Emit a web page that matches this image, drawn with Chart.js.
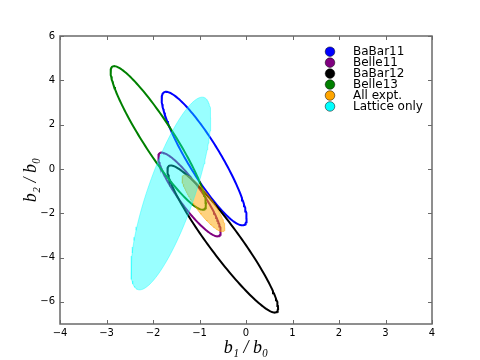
<!DOCTYPE html>
<html>
<head>
<meta charset="utf-8">
<script src="https://cdn.jsdelivr.net/npm/chart.js@4/dist/chart.umd.min.js"></script>
<style>
html,body{margin:0;padding:0;background:#fff;}
canvas{display:block;}
</style>
</head>
<body>
<canvas id="c" width="480" height="360"></canvas>
<script>
// ---- data ----
const seriesNames = ['BaBar11', 'Belle11', 'BaBar12', 'Belle13', 'All expt.', 'Lattice only'];
const centerX = [-0.90, -1.215, -0.50, -1.886, -0.914, -1.615];
const centerY = [0.467, -1.152, -3.163, 1.40, -1.55, -1.11];
const sigmaX  = [0.914, 0.671, 1.19, 1.026, 0.462, 0.858];
const sigmaY  = [3.014, 1.89, 3.32, 3.24, 1.28, 4.35];
const corr    = [-0.895, -0.895, -0.94, -0.925, -0.87, 0.785];
const filled  = [false, false, false, false, true, true];
const xTicks = [-4, -3, -2, -1, 0, 1, 2, 3, 4];
const yTicks = [-6, -4, -2, 0, 2, 4, 6];
const xRange = [-4, 4];
const yRange = [-7, 6];

// ---- styles ----
const lineColors = ['#0000ff', '#800080', '#000000', '#008000', 'rgba(255,165,0,0.5)', 'rgba(0,255,255,0.4)'];
const fillColors = ['transparent', 'transparent', 'transparent', 'transparent', 'rgba(255,165,0,0.5)', 'rgba(0,255,255,0.4)'];
const markerColors = ['#0000ff', '#800080', '#000000', '#008000', '#ffa500', '#00ffff'];
const drawOrder = [6, 5, 4, 3, 2, 1]; // lower = on top

function ellipse(i) {
  const pts = [];
  const n = 160;
  const s = Math.sqrt(1 - corr[i] * corr[i]);
  for (let k = 0; k <= n; k++) {
    const t = 2 * Math.PI * k / n;
    const c = Math.cos(t), sn = Math.sin(t);
    pts.push({x: centerX[i] + sigmaX[i] * c, y: centerY[i] + sigmaY[i] * (corr[i] * c + s * sn)});
  }
  return pts;
}

const datasets = seriesNames.map((name, i) => ({
  label: name,
  data: ellipse(i),
  showLine: true,
  pointRadius: 0,
  pointHoverRadius: 0,
  borderColor: lineColors[i],
  backgroundColor: fillColors[i],
  borderWidth: filled[i] ? 1 : 2,
  fill: filled[i] ? 'shape' : false,
  tension: 0,
  order: drawOrder[i]
}));

const fmt = v => (v < 0 ? '\u2212' + Math.abs(v) : String(v));

const framePlugin = {
  id: 'frame',
  afterDatasetsDraw(chart) {
    const {ctx, chartArea: a, scales: {x, y}} = chart;
    ctx.save();
    ctx.strokeStyle = '#6a6a6a';
    ctx.lineWidth = 1.5;
    ctx.strokeRect(a.left, a.top, a.right - a.left, a.bottom - a.top);
    ctx.lineWidth = 1;
    ctx.beginPath();
    const L = 4;
    xTicks.forEach(v => {
      const px = Math.round(x.getPixelForValue(v)) + 0.5;
      ctx.moveTo(px, a.bottom); ctx.lineTo(px, a.bottom - L);
      ctx.moveTo(px, a.top); ctx.lineTo(px, a.top + L);
    });
    yTicks.forEach(v => {
      const py = Math.round(y.getPixelForValue(v)) + 0.5;
      ctx.moveTo(a.left, py); ctx.lineTo(a.left + L, py);
      ctx.moveTo(a.right, py); ctx.lineTo(a.right - L, py);
    });
    ctx.stroke();
    ctx.restore();
  },
  afterDraw(chart) {
    const {ctx} = chart;
    ctx.save();
    ctx.font = '12px "DejaVu Sans"';
    ctx.textBaseline = 'middle';
    ctx.textAlign = 'left';
    const x0 = 330, y0 = 51.7, dy = 10.95;
    seriesNames.forEach((name, i) => {
      const yy = y0 + i * dy;
      ctx.beginPath();
      ctx.arc(x0, yy, 4.8, 0, 2 * Math.PI);
      ctx.fillStyle = markerColors[i];
      ctx.fill();
      ctx.lineWidth = 0.5;
      ctx.strokeStyle = '#000';
      ctx.stroke();
      ctx.fillStyle = '#000';
      ctx.fillText(name, 353, yy);
    });
    ctx.restore();
  }
};

new Chart(document.getElementById('c'), {
  type: 'scatter',
  data: {datasets},
  options: {
    responsive: false,
    animation: false,
    devicePixelRatio: 1,
    layout: {padding: {left: 0, top: 36, right: 48, bottom: 0}},
    plugins: {legend: {display: false}, tooltip: {enabled: false}},
    scales: {
      x: {
        type: 'linear', min: xRange[0], max: xRange[1],
        grid: {display: false, drawTicks: false},
        border: {display: false},
        afterFit: s => { s.height = 36; },
        afterBuildTicks: s => { s.ticks = xTicks.map(v => ({value: v})); },
        ticks: {color: '#000', font: {family: 'DejaVu Sans', size: 10}, padding: 3, maxRotation: 0, autoSkip: false, callback: fmt},
        title: {display: true, text: 'b\u2081 / b\u2080', color: '#000', font: {family: 'Liberation Serif', size: 18, style: 'italic'}, padding: {top: 0, bottom: 1}}
      },
      y: {
        type: 'linear', min: yRange[0], max: yRange[1],
        grid: {display: false, drawTicks: false},
        border: {display: false},
        afterFit: s => { s.width = 60; },
        afterBuildTicks: s => { s.ticks = yTicks.map(v => ({value: v})); },
        ticks: {color: '#000', font: {family: 'DejaVu Sans', size: 10}, padding: 5, autoSkip: false, callback: fmt},
        title: {display: true, text: 'b\u2082 / b\u2080', color: '#000', font: {family: 'Liberation Serif', size: 18, style: 'italic'}, padding: {top: 20, bottom: 0}}
      }
    }
  },
  plugins: [framePlugin]
});
</script>
</body>
</html>
